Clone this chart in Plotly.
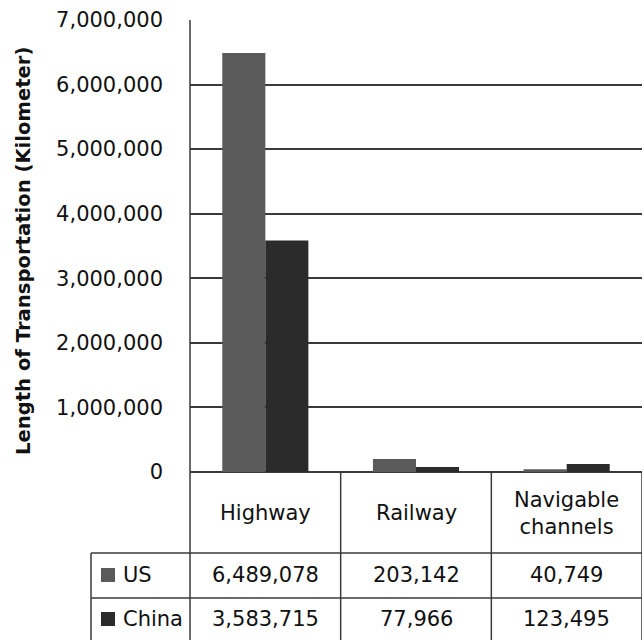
import plotly.graph_objects as go

# Transport network lengths (km)
categories = ["Highway", "Railway", "Navigable<br>channels"]
us_km = [6489078, 203142, 40749]
china_km = [3583715, 77966, 123495]
series_names = ["US", "China"]
y_ticks = [0, 1000000, 2000000, 3000000, 4000000, 5000000, 6000000, 7000000]

US_COLOR = "#5a5a5a"
CN_COLOR = "#2b2b2b"
LINE = "#3a3a3a"
FONT = "DejaVu Sans"
TXT = "#111111"

W, H = 644, 640
ML, MR, MT, MB = 190, 2, 20, 168
PW, PH = W - ML - MR, H - MT - MB

def px_x(p):
    return (p - ML) / PW

def px_y(p):
    return (H - MB - p) / PH

xs = list(range(len(categories)))

fig = go.Figure()
fig.add_trace(go.Bar(x=xs, y=us_km, name=series_names[0], marker=dict(color=US_COLOR, line=dict(width=0))))
fig.add_trace(go.Bar(x=xs, y=china_km, name=series_names[1], marker=dict(color=CN_COLOR, line=dict(width=0))))

shapes = []
lw = 1.5
# table geometry (row boundaries, pixels from top)
header_bot = px_y(553)
us_bot = px_y(598)
table_bot = px_y(660)
legend_left = px_x(91)

# left plot / table border
shapes.append(dict(type="line", xref="paper", yref="paper", x0=0, x1=0, y0=1, y1=table_bot,
                   line=dict(color=LINE, width=lw)))
# column separators between categories
for i in range(len(categories)):
    shapes.append(dict(type="line", xref="x", yref="paper", x0=i + 0.5, x1=i + 0.5, y0=0, y1=table_bot,
                       line=dict(color=LINE, width=lw)))
# horizontal rules of the data table
shapes.append(dict(type="line", xref="paper", yref="paper", x0=legend_left, x1=1, y0=header_bot, y1=header_bot,
                   line=dict(color=LINE, width=lw)))
shapes.append(dict(type="line", xref="paper", yref="paper", x0=legend_left, x1=1, y0=us_bot, y1=us_bot,
                   line=dict(color=LINE, width=lw)))
# legend column left border
shapes.append(dict(type="line", xref="paper", yref="paper", x0=legend_left, x1=legend_left, y0=header_bot, y1=table_bot,
                   line=dict(color=LINE, width=lw)))

annotations = []
row_centers_px = [575, 619]
row_centers = [px_y(p) for p in row_centers_px]
header_center = px_y(513)
for i, c in enumerate(categories):
    annotations.append(dict(x=i, y=header_center, xref="x", yref="paper", text=c, showarrow=False,
                            font=dict(family=FONT, size=21, color=TXT), xanchor="center", yanchor="middle"))
    for vals, yc in zip([us_km, china_km], row_centers):
        annotations.append(dict(x=i, y=yc, xref="x", yref="paper", text=f"{vals[i]:,}", showarrow=False,
                                font=dict(family=FONT, size=21, color=TXT), xanchor="center", yanchor="middle"))

# legend keys in the table's first column
for name, color, yc_px in zip(series_names, [US_COLOR, CN_COLOR], row_centers_px):
    shapes.append(dict(type="rect", xref="paper", yref="paper", x0=px_x(101), x1=px_x(115),
                       y0=px_y(yc_px + 7), y1=px_y(yc_px - 7), fillcolor=color, line=dict(width=0)))
    annotations.append(dict(x=px_x(121), y=px_y(yc_px), xref="paper", yref="paper",
                            text=name, showarrow=False,
                            font=dict(family=FONT, size=21, color=TXT), xanchor="left", yanchor="middle"))

# axis title
annotations.append(dict(x=px_x(23), y=px_y(251), xref="paper", yref="paper",
                        text="<b>Length of Transportation (Kilometer)</b>", textangle=-90, showarrow=False,
                        font=dict(family=FONT, size=19.6, color=TXT), xanchor="center", yanchor="middle"))

fig.update_layout(
    width=W, height=H,
    margin=dict(l=ML, r=MR, t=MT, b=MB, pad=0),
    paper_bgcolor="white", plot_bgcolor="white",
    barmode="group", bargap=0.4286, bargroupgap=0,
    showlegend=False,
    shapes=shapes, annotations=annotations,
    xaxis=dict(range=[-0.5, len(categories) - 0.5], showticklabels=False, showgrid=False,
               zeroline=False, showline=False, ticks=""),
    yaxis=dict(range=[0, 7000000], tickvals=y_ticks, ticktext=[f"{v:,}" for v in y_ticks],
               showgrid=True, gridcolor=LINE, gridwidth=lw, zeroline=True, zerolinecolor=LINE,
               zerolinewidth=lw, showline=False, ticks="", ticklabelstandoff=26,
               tickfont=dict(family=FONT, size=21, color=TXT)),
)

fig.write_html("out.html")
